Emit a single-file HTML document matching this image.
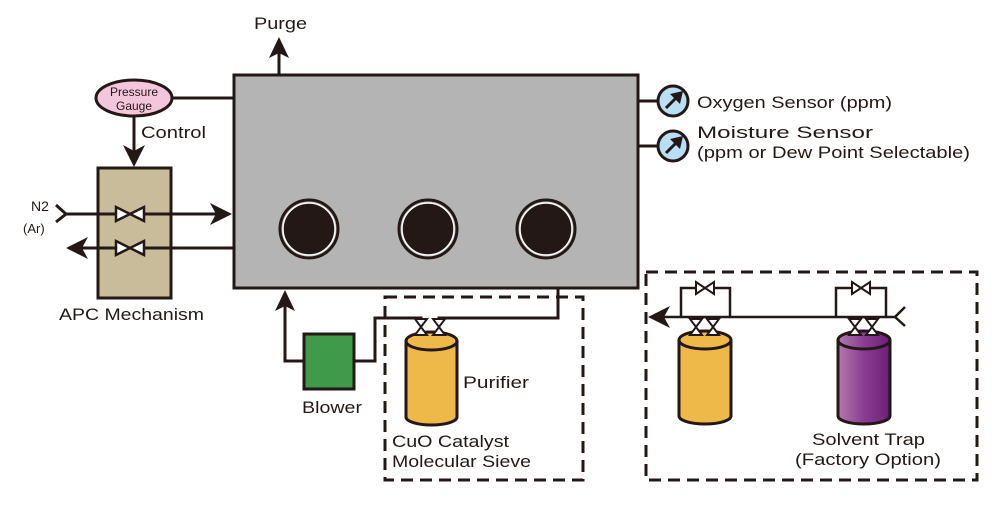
<!DOCTYPE html>
<html><head><meta charset="utf-8"><style>html,body{margin:0;padding:0;background:#fff}svg{display:block}</style></head>
<body>
<svg width="1000" height="505" viewBox="0 0 1000 505" xmlns="http://www.w3.org/2000/svg" font-family="Liberation Sans, sans-serif" fill="none">
<defs>
<linearGradient id="pg" x1="0" x2="1"><stop offset="0" stop-color="#b27bb0"/><stop offset="0.5" stop-color="#8a3c90"/><stop offset="1" stop-color="#6a1f78"/></linearGradient>
<g id="vv"><path d="M-6,0 L6,0 L0,8 Z M-6,16 L6,16 L0,8 Z" fill="#fff" stroke="#231815" stroke-width="2"/></g>
<g id="hv"><path d="M0,-7 L0,7 L14,0 Z M28,-7 L28,7 L14,0 Z" fill="#fff" stroke="#231815" stroke-width="2.5"/></g>
<g id="hvs"><path d="M0,-6 L0,6 L9,0 Z M18,-6 L18,6 L9,0 Z" fill="#fff" stroke="#231815" stroke-width="2"/></g>
</defs>
<g stroke="#231815" stroke-width="3">
<rect x="234" y="75" width="404" height="213" fill="#b4b4b4"/>
<line x1="279" y1="75" x2="279" y2="50"/>
</g>
<path d="M279,37 L289,58 L279,53 L269,58 Z" fill="#231815"/>
<text x="254" y="29" font-size="17" fill="#231815" textLength="53" lengthAdjust="spacingAndGlyphs">Purge</text>
<line x1="172" y1="98" x2="234" y2="98" stroke="#231815" stroke-width="3"/>
<ellipse cx="134" cy="98" rx="38" ry="18" fill="#f4c6dc" stroke="#231815" stroke-width="3"/>
<text x="134" y="96" font-size="12" fill="#231815" text-anchor="middle">Pressure</text>
<text x="134" y="110" font-size="12" fill="#231815" text-anchor="middle">Gauge</text>
<line x1="134" y1="116" x2="134" y2="155" stroke="#231815" stroke-width="3"/>
<path d="M134,167 L123,145 L134,151 L145,145 Z" fill="#231815"/>
<text x="141" y="138" font-size="17" fill="#231815" textLength="65" lengthAdjust="spacingAndGlyphs">Control</text>
<rect x="98" y="168" width="73" height="130" fill="#c9bc9b" stroke="#231815" stroke-width="3"/>
<g stroke="#231815" stroke-width="3">
<line x1="66" y1="214" x2="220" y2="214"/>
<polyline points="56,205 66,214 56,222"/>
<line x1="80" y1="248" x2="234" y2="248"/>
</g>
<path d="M232,214 L210,203 L216,214 L210,225 Z" fill="#231815"/>
<path d="M66,248 L88,237 L82,248 L88,259 Z" fill="#231815"/>
<use href="#hv" x="116" y="214"/>
<use href="#hv" x="116" y="248"/>
<text x="31" y="211" font-size="14" fill="#231815">N2</text>
<text x="23" y="233" font-size="13" fill="#231815">(Ar)</text>
<text x="59" y="320" font-size="17" fill="#231815" textLength="145" lengthAdjust="spacingAndGlyphs">APC Mechanism</text>
<g fill="#231815" stroke="#fff" stroke-width="1.5">
<circle cx="309" cy="229" r="26"/><circle cx="428" cy="229" r="26"/><circle cx="546" cy="229" r="26"/>
</g>
<g stroke="#231815" stroke-width="3"><circle cx="309" cy="229" r="29"/><circle cx="428" cy="229" r="29"/><circle cx="546" cy="229" r="29"/></g>
<g stroke="#231815" stroke-width="3">
<line x1="638" y1="101" x2="658" y2="101"/><line x1="638" y1="146" x2="658" y2="146"/>
<circle cx="673" cy="101" r="15" fill="#b8dff4"/><circle cx="673" cy="146" r="15" fill="#b8dff4"/>
<line x1="666" y1="108" x2="678" y2="96"/><line x1="666" y1="153" x2="678" y2="141"/>
</g>
<path d="M683,91 L680,104 L670,94 Z M683,136 L680,149 L670,139 Z" fill="#231815"/>
<text x="697" y="108" font-size="17" fill="#231815" textLength="195" lengthAdjust="spacingAndGlyphs">Oxygen Sensor (ppm)</text>
<text x="697" y="138" font-size="17" fill="#231815" textLength="176" lengthAdjust="spacingAndGlyphs">Moisture Sensor</text>
<text x="697" y="158" font-size="17" fill="#231815" textLength="273" lengthAdjust="spacingAndGlyphs">(ppm or Dew Point Selectable)</text>
<g stroke="#231815" stroke-width="3">
<polyline points="304,361 285,361 285,302"/>
<polyline points="354,361 375,361 375,318 421,318 421,320"/>
<polyline points="439,320 439,318 558,318 558,288"/>
</g>
<path d="M285,290 L295,311 L285,306 L275,311 Z" fill="#231815"/>
<rect x="304" y="334" width="50" height="55" fill="#3f9a4a" stroke="#231815" stroke-width="3"/>
<text x="302" y="413" font-size="17" fill="#231815" textLength="60" lengthAdjust="spacingAndGlyphs">Blower</text>
<rect x="385" y="297" width="198" height="183" stroke="#231815" stroke-width="3" stroke-dasharray="12,7"/>
<path d="M406,341 L406,417 A25.5,8 0 0 0 457,417 L457,341" fill="#efb94a" stroke="#231815" stroke-width="3"/>
<ellipse cx="431.5" cy="341" rx="25.5" ry="9" fill="#efb94a" stroke="#231815" stroke-width="3"/>
<use href="#vv" x="421" y="319"/><use href="#vv" x="439" y="319"/>
<text x="463" y="388" font-size="17" fill="#231815" textLength="66" lengthAdjust="spacingAndGlyphs">Purifier</text>
<text x="392" y="447" font-size="17" fill="#231815" textLength="117" lengthAdjust="spacingAndGlyphs">CuO Catalyst</text>
<text x="392" y="467" font-size="17" fill="#231815" textLength="139" lengthAdjust="spacingAndGlyphs">Molecular Sieve</text>
<rect x="646" y="272" width="331" height="208" stroke="#231815" stroke-width="3" stroke-dasharray="12,7"/>
<g stroke="#231815" stroke-width="2.5">
<line x1="660" y1="317" x2="895" y2="317"/>
<polyline points="905,307 895,317 905,326"/>
<polyline points="681,317 681,288 730,288 730,317"/>
<polyline points="836,317 836,288 886,288 886,317"/>
<line x1="696" y1="317" x2="696" y2="320"/><line x1="713" y1="317" x2="713" y2="320"/>
<line x1="855" y1="317" x2="855" y2="320"/><line x1="872" y1="317" x2="872" y2="320"/>
</g>
<path d="M648,317 L670,306 L664,317 L670,328 Z" fill="#231815"/>
<use href="#hvs" x="696" y="288"/><use href="#hvs" x="852" y="288"/>
<path d="M679,340 L679,416 A26,8 0 0 0 731,416 L731,340" fill="#efb94a" stroke="#231815" stroke-width="3"/>
<ellipse cx="705" cy="340" rx="26" ry="9" fill="#efb94a" stroke="#231815" stroke-width="3"/>
<path d="M838,340 L838,416 A26,8 0 0 0 890,416 L890,340" fill="url(#pg)" stroke="#231815" stroke-width="3"/>
<ellipse cx="864" cy="340" rx="26" ry="9" fill="url(#pg)" stroke="#231815" stroke-width="3"/>
<use href="#vv" x="696" y="319"/><use href="#vv" x="713" y="319"/>
<use href="#vv" x="855" y="319"/><use href="#vv" x="872" y="319"/>
<text x="812" y="445" font-size="17" fill="#231815" textLength="113" lengthAdjust="spacingAndGlyphs">Solvent Trap</text>
<text x="795" y="465" font-size="17" fill="#231815" textLength="146" lengthAdjust="spacingAndGlyphs">(Factory Option)</text>
</svg>
</body></html>
